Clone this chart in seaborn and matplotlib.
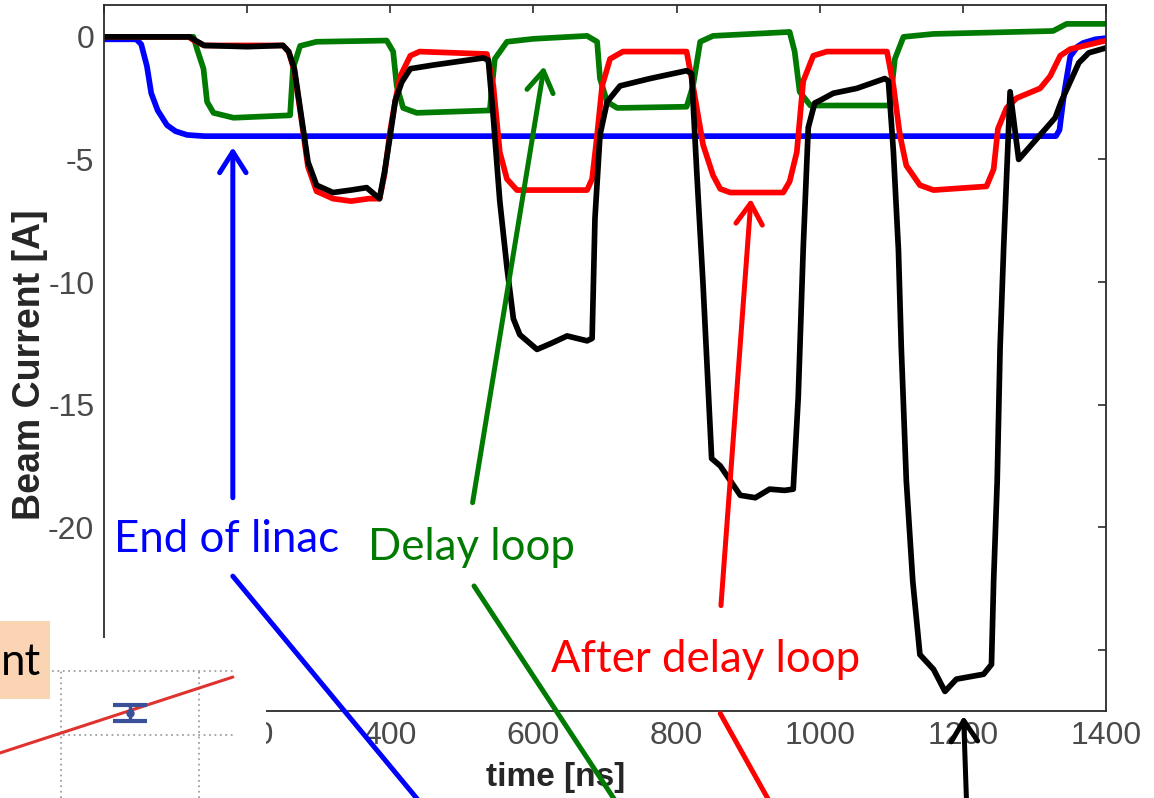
import numpy as np
import pandas as pd
import matplotlib
matplotlib.use("Agg")
import matplotlib.pyplot as plt
from matplotlib.patches import Rectangle
import seaborn as sns

# Beam current traces: (time [ns], current [A])
t_linac = [0, 45, 52, 60, 66, 75, 88, 100, 116, 140, 400, 800, 1200, 1330, 1335, 1342, 1350, 1360, 1368, 1385, 1400]
i_linac = [-0.1, -0.1, -0.3, -1.2, -2.3, -3.0, -3.6, -3.85, -4.0, -4.05, -4.05, -4.05, -4.05, -4.05, -3.8, -2.2, -0.8, -0.4, -0.25, -0.1, -0.05]

t_loop = [0, 125, 130, 139, 144, 153, 181, 260, 264, 274, 297, 395, 404, 409, 418, 437, 539, 546, 563, 600,
          675, 689, 693, 703, 717, 814, 823, 833, 851, 958, 965, 972, 987, 1098, 1105, 1117, 1159, 1326, 1345, 1400]
i_loop = [0.0, 0.0, -0.5, -1.3, -2.65, -3.1, -3.3, -3.2, -1.3, -0.37, -0.2, -0.15, -0.6, -2.0, -2.9, -3.1, -3.0, -0.9, -0.2, -0.08,
          0.04, -0.2, -1.7, -2.65, -2.9, -2.85, -2.0, -0.2, 0.04, 0.2, -0.6, -2.24, -2.8, -2.8, -0.9, 0.0, 0.12, 0.24, 0.53, 0.53]

t_after = [0, 118, 126, 140, 250, 258, 266, 276, 285, 297, 320, 345, 370, 385, 392, 400, 407, 414, 428, 441, 535, 544, 553,
           563, 577, 675, 682, 689, 696, 707, 725, 814, 823, 837, 851, 861, 875, 949, 958, 968, 977, 991, 1010, 1094,
           1103, 1112, 1121, 1140, 1159, 1233, 1243, 1249, 1261, 1275, 1308, 1322, 1336, 1350, 1400]
i_after = [0.0, 0.0, -0.15, -0.35, -0.35, -0.6, -1.4, -3.4, -5.3, -6.3, -6.6, -6.7, -6.6, -6.6, -5.6, -3.8, -2.6, -1.6, -0.77, -0.6, -0.7, -2.0, -4.7,
           -5.8, -6.25, -6.25, -5.8, -4.0, -2.0, -0.9, -0.6, -0.6, -2.0, -4.4, -5.65, -6.2, -6.35, -6.35, -5.9, -4.7, -1.8, -0.77, -0.6, -0.6,
           -2.0, -4.0, -5.25, -6.05, -6.25, -6.1, -5.4, -3.75, -2.9, -2.5, -2.1, -1.6, -0.77, -0.5, -0.15]

t_end = [0, 120, 128, 140, 200, 250, 258, 266, 276, 285, 297, 320, 345, 367, 385, 392, 400, 407, 416, 428, 460, 530, 537,
         544, 553, 563, 572, 581, 605, 625, 647, 675, 682, 686, 693, 703, 721, 763, 814, 821, 828, 837, 849, 861, 889,
         910, 930, 951, 963, 970, 977, 984, 993, 1000, 1019, 1052, 1091, 1096, 1103, 1110, 1114, 1121, 1130, 1140, 1159,
         1175, 1191, 1229, 1240, 1243, 1248, 1252, 1257, 1266, 1278, 1329, 1338, 1362, 1376, 1400]
i_end = [0.0, 0.0, -0.15, -0.35, -0.4, -0.35, -0.6, -1.3, -3.3, -5.1, -6.05, -6.35, -6.25, -6.15, -6.6, -5.5, -4.0, -2.6, -1.85, -1.3, -1.15, -0.86, -0.95,
         -3.3, -6.7, -9.4, -11.5, -12.15, -12.75, -12.5, -12.2, -12.4, -12.3, -7.4, -4.0, -2.65, -2.0, -1.7, -1.38, -1.5, -5.4, -10.1, -17.2, -17.5, -18.7,
         -18.8, -18.45, -18.5, -18.45, -14.7, -8.6, -3.7, -2.7, -2.6, -2.3, -2.1, -1.7, -1.8, -4.7, -8.7, -12.7, -18.1, -22.2, -25.2, -25.8,
         -26.7, -26.2, -26.0, -25.6, -22.2, -18.1, -12.7, -8.6, -2.24, -5.0, -3.3, -2.6, -1.06, -0.65, -0.45]

trace_names = ["End of linac", "Delay loop", "After delay loop", "End"]
trace_colors = ["#0000ff", "#007a00", "#ff0000", "#000000"]

x_ticks = [0, 200, 400, 600, 800, 1000, 1200, 1400]
y_ticks = [-25, -20, -15, -10, -5, 0]

# fragment of the neighbouring slide chart (inset bottom-left)
inset_fit_x = [0.558, 2.246]
inset_fit_y = [0.72, 1.906]
inset_pt_x = [1.5]
inset_pt_y = [1.344]
inset_pt_err = [0.125]
inset_grid = [1, 2]

df = pd.concat([
    pd.DataFrame({"time": t, "current": i, "trace": name})
    for t, i, name in zip([t_linac, t_loop, t_after, t_end],
                          [i_linac, i_loop, i_after, i_end], trace_names)
], ignore_index=True)

sns.set_style("white")
plt.rcParams["font.family"] = ["Liberation Sans", "DejaVu Sans"]
plt.rcParams["axes.unicode_minus"] = False

W, H = 1154, 798
fig = plt.figure(figsize=(W / 100, H / 100), dpi=100)
ax = fig.add_axes([104 / W, 1 - 711 / H, 1002 / W, 706 / H])

sns.lineplot(data=df, x="time", y="current", hue="trace", hue_order=trace_names,
             palette=dict(zip(trace_names, trace_colors)), estimator=None, sort=False,
             linewidth=4.1, legend=False, ax=ax)

ax.set_xlim(0, 1400)
ax.set_ylim(-27.5, 1.3)
ax.set_xticks(x_ticks)
ax.set_yticks(y_ticks)
ax.tick_params(direction="in", length=6, width=1.2, top=True, right=True,
               labelsize=23, labelcolor="#4a4a4a", color="#2b2b2b", pad=7)
for s in ax.spines.values():
    s.set_color("#2b2b2b")
    s.set_linewidth(1.3)

ax.set_xlabel("time [ns]", fontsize=24, fontweight="bold")
ax.set_ylabel("Beam Current [A]", fontsize=27, fontweight="bold")
ax.xaxis.set_label_coords((556 - 104) / 1002, -0.072)
ax.yaxis.set_label_coords(-0.056, 0.49)

# annotation arrows and leader lines (data coordinates)
ann_font = dict(family=["Lato", "DejaVu Sans"], fontsize=31.5)
arrow_kw = dict(arrowstyle="->,head_length=0.6,head_width=0.38", lw=3.6, mutation_scale=25, shrinkA=0, shrinkB=0)
line_kw = dict(arrowstyle="-", lw=3.6, shrinkA=0, shrinkB=0)
annots = [
    ("#0000ff", (180, -4.5), (180, -18.8), (180, -22.0), (438, -31.1)),
    ("#007a00", (615, -1.2), (515, -19.0), (517, -22.4), (713, -31.1)),
    ("#ff0000", (904, -6.6), (862, -23.2), (861, -27.6), (928, -31.1)),
    ("#000000", (1201, -27.7), (1205, -31.1), None, None),
]
for col, tip, tail, l0, l1 in annots:
    ax.annotate("", xy=tip, xytext=tail, annotation_clip=False,
                arrowprops=dict(color=col, **arrow_kw))
    if l0 is not None:
        ax.annotate("", xy=l1, xytext=l0, annotation_clip=False,
                    arrowprops=dict(color=col, **line_kw))

fig.text(114 / W, 1 - 540 / H, "End of linac", color="#0000ff", va="center", ha="left", **ann_font)
fig.text(368 / W, 1 - 548 / H, "Delay loop", color="#007a00", va="center", ha="left", **ann_font)
fig.text(551 / W, 1 - 660 / H, "After delay loop", color="#ff0000", va="center", ha="left", **ann_font)

# inset piece of the other chart covering the lower-left corner
inset = fig.add_axes([0, 0, 266 / W, 160 / H])
inset.set_facecolor("white")
for s in inset.spines.values():
    s.set_visible(False)
inset.set_xticks([])
inset.set_yticks([])
inset.set_xlim(0.558, 2.486)
inset.set_ylim(0.016, 2.516)
inset.hlines(inset_grid, 0.935, 2.246, colors="#a0a0a0", linestyles=(0, (1, 2)), lw=1.3)
inset.vlines(inset_grid, 0.016, 2, colors="#a0a0a0", linestyles=(0, (1, 2)), lw=1.3)
sns.lineplot(x=inset_fit_x, y=inset_fit_y, color="#e0332f", lw=2.2, ax=inset)
inset.errorbar(inset_pt_x, inset_pt_y, yerr=inset_pt_err, fmt="o", color="#3a5199",
               ms=5, capsize=12, capthick=3, elinewidth=2.5)

fig.patches.append(Rectangle((0, 1 - 699 / H), 50 / W, 78 / H, transform=fig.transFigure,
                             facecolor="#fbd4b4", edgecolor="none", zorder=5))
fig.text(1 / W, 1 - 675 / H, "nt", color="black", ha="left", va="baseline", zorder=6, **ann_font)

fig.savefig("out.png", dpi=100)
